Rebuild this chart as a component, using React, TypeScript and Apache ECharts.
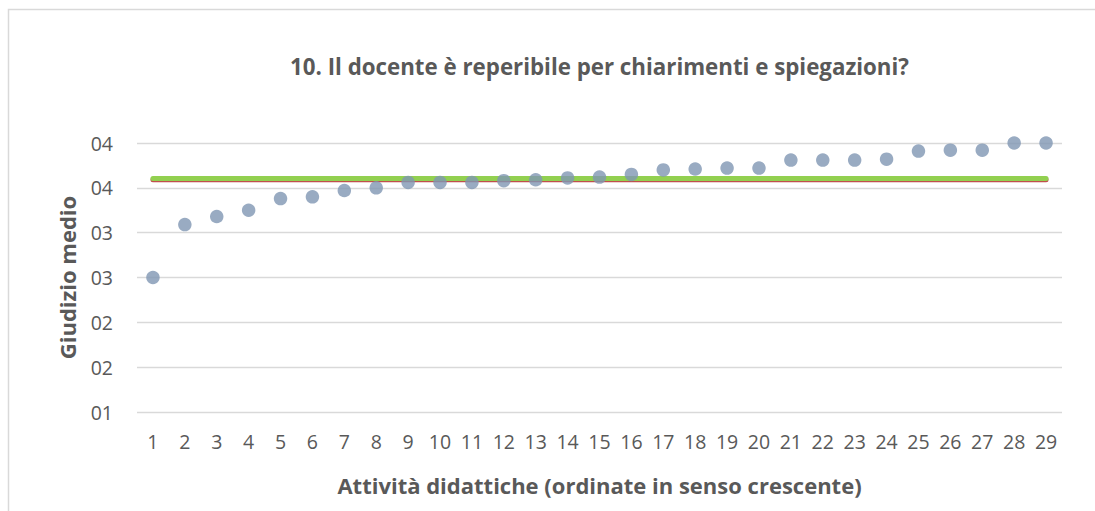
import React, { useEffect, useRef } from "react";
import * as echarts from "echarts";

const categories = Array.from({ length: 29 }, (_, i) => String(i + 1));
const scores = [
  2.5, 3.09, 3.18, 3.25, 3.38, 3.4, 3.47, 3.5, 3.56, 3.56, 3.56, 3.58, 3.59, 3.61, 3.62,
  3.65, 3.7, 3.71, 3.72, 3.72, 3.81, 3.81, 3.81, 3.82, 3.91, 3.92, 3.92, 4.0, 4.0,
];
const meanRed = 3.59;
const meanGreen = 3.603;
const title = "10. Il docente è reperibile per chiarimenti e spiegazioni?";
const yName = "Giudizio medio";
const xName = "Attività didattiche (ordinate in senso crescente)";

const FONT = "'Open Sans', 'Noto Sans', sans-serif";

export default function App() {
  const ref = useRef<HTMLDivElement>(null);
  useEffect(() => {
    if (!ref.current) return;
    const chart = echarts.init(ref.current, null, { renderer: "svg" });
    chart.setOption({
      animation: false,
      backgroundColor: "#ffffff",
      textStyle: { fontFamily: FONT },
      graphic: [
        {
          type: "rect",
          shape: { x: 8.5, y: 9.5, width: 1100, height: 600 },
          style: { fill: "none", stroke: "#d9d9d9", lineWidth: 1.5 },
          silent: true,
        },
        {
          type: "text",
          x: 599.5,
          y: 66,
          style: {
            text: title,
            fontFamily: FONT,
            fontSize: 22.3,
            fontWeight: "bold",
            fill: "#595959",
            align: "center",
            verticalAlign: "middle",
          },
          silent: true,
        },
      ],
      grid: { left: 137, right: 33, top: 143, bottom: 99, containLabel: false },
      xAxis: {
        type: "category",
        data: categories,
        boundaryGap: true,
        name: xName,
        nameLocation: "middle",
        nameGap: 62,
        nameTextStyle: { fontFamily: FONT, fontSize: 22, fontWeight: "bold", color: "#595959" },
        axisLine: { show: false },
        axisTick: { show: false },
        axisLabel: { fontFamily: FONT, fontSize: 19.5, color: "#595959", margin: 19, interval: 0 },
        splitLine: { show: false },
      },
      yAxis: {
        type: "value",
        min: 1,
        max: 4,
        interval: 0.5,
        name: yName,
        nameLocation: "middle",
        nameGap: 59,
        nameTextStyle: { fontFamily: FONT, fontSize: 22, fontWeight: "bold", color: "#595959" },
        axisLine: { show: false },
        axisTick: { show: false },
        axisLabel: {
          fontFamily: FONT,
          fontSize: 19.5,
          color: "#595959",
          margin: 24,
          formatter: (v: number) => String(Math.round(v)).padStart(2, "0"),
        },
        splitLine: { lineStyle: { color: "#d9d9d9", width: 1.3 } },
      },
      series: [
        {
          type: "line",
          data: categories.map(() => meanRed),
          symbol: "none",
          lineStyle: { color: "#c0504d", width: 5, cap: "round" },
          z: 2,
        },
        {
          type: "line",
          data: categories.map(() => meanGreen),
          symbol: "none",
          lineStyle: { color: "#92d050", width: 5, cap: "round" },
          z: 3,
        },
        {
          type: "scatter",
          data: scores,
          symbol: "circle",
          symbolSize: 13.5,
          itemStyle: { color: "#8096b3" },
          clip: false,
          z: 4,
        },
      ],
    });
    return () => chart.dispose();
  }, []);
  return (
    <div
      ref={ref}
      style={{ position: "fixed", left: 0, top: 0, width: 1095, height: 511 }}
    />
  );
}
